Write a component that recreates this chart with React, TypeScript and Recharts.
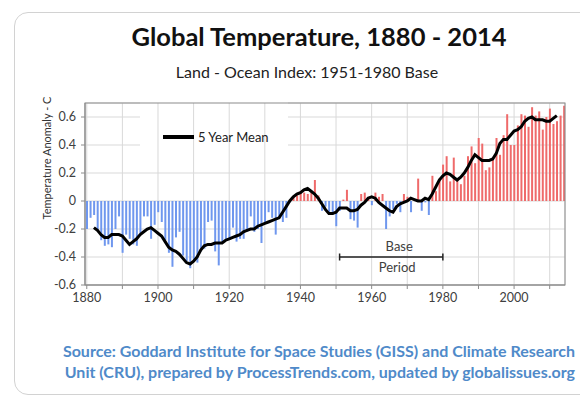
import React from 'react';
import { ComposedChart, Bar, Line, Cell, XAxis, YAxis, CartesianGrid, ReferenceLine } from 'recharts';

// annual land-ocean anomalies, 1880 .. 2014
const FIRST_YEAR = 1880;
const anomalies = [
  -0.2, -0.12, -0.1, -0.21, -0.28, -0.32, -0.31, -0.33, -0.2, -0.11,
  -0.37, -0.24, -0.27, -0.31, -0.32, -0.23, -0.11, -0.11, -0.27, -0.17,
  -0.08, -0.15, -0.28, -0.37, -0.47, -0.26, -0.22, -0.39, -0.43, -0.48,
  -0.43, -0.44, -0.36, -0.34, -0.15, -0.14, -0.36, -0.46, -0.3, -0.28,
  -0.27, -0.19, -0.29, -0.27, -0.27, -0.22, -0.11, -0.22, -0.2, -0.3,
  -0.15, -0.08, -0.12, -0.24, -0.11, -0.15, -0.12, -0.01, 0.03, 0.04,
  0.07, 0.06, 0.05, 0.06, 0.15, 0.04, -0.07, -0.04, -0.1, -0.1,
  -0.18, -0.07, 0.01, 0.08, -0.13, -0.14, -0.19, 0.05, 0.06, 0.03,
  -0.03, 0.06, 0.03, 0.05, -0.2, -0.11, -0.06, -0.02, -0.08, 0.05,
  0.03, -0.08, 0.01, 0.16, -0.07, -0.01, -0.1, 0.18, 0.07, 0.16,
  0.26, 0.32, 0.14, 0.31, 0.16, 0.12, 0.18, 0.32, 0.39, 0.27,
  0.45, 0.41, 0.22, 0.24, 0.31, 0.45, 0.33, 0.47, 0.62, 0.4,
  0.4, 0.54, 0.62, 0.61, 0.53, 0.67, 0.61, 0.64, 0.51, 0.6,
  0.66, 0.55, 0.57, 0.61, 0.68,
];

// 5 year running mean, 1882 .. 2012
const MEAN_FIRST_YEAR = 1882;
const fiveYearMean = [
  -0.19, -0.21, -0.24, -0.26, -0.26, -0.24, -0.24, -0.24,
  -0.25, -0.28, -0.31, -0.29, -0.27, -0.24, -0.22, -0.2, -0.19, -0.21,
  -0.23, -0.25, -0.29, -0.33, -0.35, -0.36, -0.38, -0.41, -0.44, -0.45,
  -0.43, -0.4, -0.35, -0.32, -0.31, -0.31, -0.3, -0.3, -0.3, -0.28,
  -0.27, -0.26, -0.25, -0.24, -0.22, -0.21, -0.2, -0.2, -0.18, -0.17,
  -0.16, -0.15, -0.14, -0.13, -0.12, -0.08, -0.04, 0.0, 0.03, 0.05,
  0.06, 0.08, 0.09, 0.07, 0.05, 0.02, -0.02, -0.06, -0.09, -0.09,
  -0.08, -0.05, -0.05, -0.05, -0.07, -0.07, -0.06, -0.03, -0.01, 0.02,
  0.03, 0.02, -0.01, -0.03, -0.05, -0.07, -0.08, -0.04, -0.02, -0.01,
  0.0, 0.02, 0.01, 0.0, 0.0, 0.02, 0.01, 0.05, 0.1, 0.15,
  0.18, 0.2, 0.19, 0.17, 0.15, 0.17, 0.2, 0.24, 0.29, 0.33,
  0.31, 0.29, 0.29, 0.29, 0.3, 0.34, 0.41, 0.44, 0.44, 0.47,
  0.5, 0.51, 0.53, 0.57, 0.59, 0.6, 0.58, 0.58, 0.58, 0.57,
  0.57, 0.59, 0.61,
];

const xTicks = [1880, 1890, 1900, 1910, 1920, 1930, 1940, 1950, 1960, 1970, 1980, 1990, 2000, 2010];
const yTicks = [-0.6, -0.4, -0.2, 0, 0.2, 0.4, 0.6];
const BASE_START = 1951;
const BASE_END = 1980;
const BASE_LEVEL = -0.4;

const BLUE = '#6f97ee';
const RED = '#ef6a6a';
const GRID = '#d9d9d9';
const AXIS = '#8c8c8c';
const SOURCE = '#4f8ac9';
const FONT = 'Lato, "Open Sans", sans-serif';

const data = anomalies.map((anomaly, i) => {
  const year = FIRST_YEAR + i;
  const m = fiveYearMean[year - MEAN_FIRST_YEAR];
  return { year, anomaly, mean: m === undefined ? null : m };
});

// horizontal grid lines stop behind the legend box
const horizontalLine = (props: any) => {
  const { x1, x2, y1, index } = props;
  if (y1 < 150) {
    return (
      <g key={`h-${index}`}>
        <line x1={x1} x2={140} y1={y1} y2={y1} stroke={GRID} />
        <line x1={288} x2={x2} y1={y1} y2={y1} stroke={GRID} />
      </g>
    );
  }
  return <line key={`h-${index}`} x1={x1} x2={x2} y1={y1} y2={y1} stroke={GRID} />;
};

export default function App() {
  return (
    <div style={{ position: 'fixed', left: 0, top: 0, width: 580, height: 396, background: '#fff', overflow: 'hidden', fontFamily: FONT }}>
      <div style={{ position: 'absolute', left: 14, top: 12, width: 600, height: 381, border: '1.5px solid #d2d2d2', borderRadius: 14 }} />

      <div style={{ position: 'absolute', left: 0, top: 0, width: 580, height: 396 }}>
        <ComposedChart width={580} height={396} data={data} margin={{ top: 103, right: 15, bottom: 81, left: 45 }}>
          <CartesianGrid stroke={GRID} horizontal={horizontalLine} vertical={{ stroke: GRID }} />
          <XAxis
            dataKey="year"
            type="number"
            domain={[1879.5, 2014.3]}
            allowDataOverflow
            ticks={xTicks}
            interval={0}
            tickFormatter={(v: number) => (v % 20 === 0 ? String(v) : '')}
            tick={{ fontSize: 12.5, fill: '#404040', fontFamily: FONT }}
            tickSize={4}
            tickMargin={4}
            height={30}
            stroke={AXIS}
          />
          <YAxis
            type="number"
            domain={[-0.6, 0.7]}
            allowDataOverflow
            ticks={yTicks}
            interval={0}
            tickFormatter={(v: number) => (v === 0 ? '0' : v.toFixed(1))}
            tick={{ fontSize: 12.5, fill: '#404040', fontFamily: FONT }}
            tickSize={4}
            tickMargin={5}
            width={40}
            stroke={AXIS}
            label={{
              content: () => (
                <text x={46} y={158} transform="rotate(-90 46 158)" textAnchor="middle" dominantBaseline="central"
                  fontSize={11} fill="#333" fontFamily={FONT}>
                  Temperature Anomaly - C
                </text>
              ),
            }}
          />
          <Bar dataKey="anomaly" barSize={2} isAnimationActive={false}>
            {data.map((d) => (
              <Cell key={d.year} fill={d.anomaly >= 0 ? RED : BLUE} />
            ))}
          </Bar>
          <Line dataKey="mean" type="linear" stroke="#000" strokeWidth={3} dot={false} isAnimationActive={false} />
          <ReferenceLine
            segment={[{ x: BASE_START, y: BASE_LEVEL }, { x: BASE_END, y: BASE_LEVEL }]}
            stroke="#222"
            strokeWidth={1.5}
            label={{ value: 'Base', position: 'top', offset: 6, dx: 8, fontSize: 13, fill: '#404040', fontFamily: FONT }}
          />
          <ReferenceLine
            segment={[{ x: BASE_START, y: BASE_LEVEL }, { x: BASE_END, y: BASE_LEVEL }]}
            stroke="none"
            label={{ value: 'Period', position: 'bottom', offset: 6, dx: 6, fontSize: 13, fill: '#404040', fontFamily: FONT }}
          />
          <ReferenceLine segment={[{ x: BASE_START, y: -0.425 }, { x: BASE_START, y: -0.375 }]} stroke="#222" strokeWidth={1.5} />
          <ReferenceLine segment={[{ x: BASE_END, y: -0.425 }, { x: BASE_END, y: -0.375 }]} stroke="#222" strokeWidth={1.5} />
        </ComposedChart>
      </div>

      {/* titles, plot frame, legend and source note */}
      <svg width={580} height={396} style={{ position: 'absolute', left: 0, top: 0, pointerEvents: 'none' }} fontFamily={FONT}>
        <rect x={85} y={103} width={480} height={182} fill="none" stroke={AXIS} />
        <text x={319} y={46} textAnchor="middle" fontSize={25.5} fontWeight={700} fill="#111">
          Global Temperature, 1880 - 2014
        </text>
        <text x={307} y={78} textAnchor="middle" fontSize={16} fill="#222">
          Land - Ocean Index: 1951-1980 Base
        </text>
        <line x1={163} x2={194} y1={137} y2={137} stroke="#000" strokeWidth={4} />
        <text x={198} y={141.5} fontSize={13} fill="#222">5 Year Mean</text>
        <text x={575} y={357} textAnchor="end" fontSize={16} fontWeight={700} fill={SOURCE}>
          Source: Goddard Institute for Space Studies (GISS) and Climate Research
        </text>
        <text x={575} y={378} textAnchor="end" fontSize={16} fontWeight={700} fill={SOURCE}>
          Unit (CRU), prepared by ProcessTrends.com, updated by globalissues.org
        </text>
      </svg>
    </div>
  );
}
